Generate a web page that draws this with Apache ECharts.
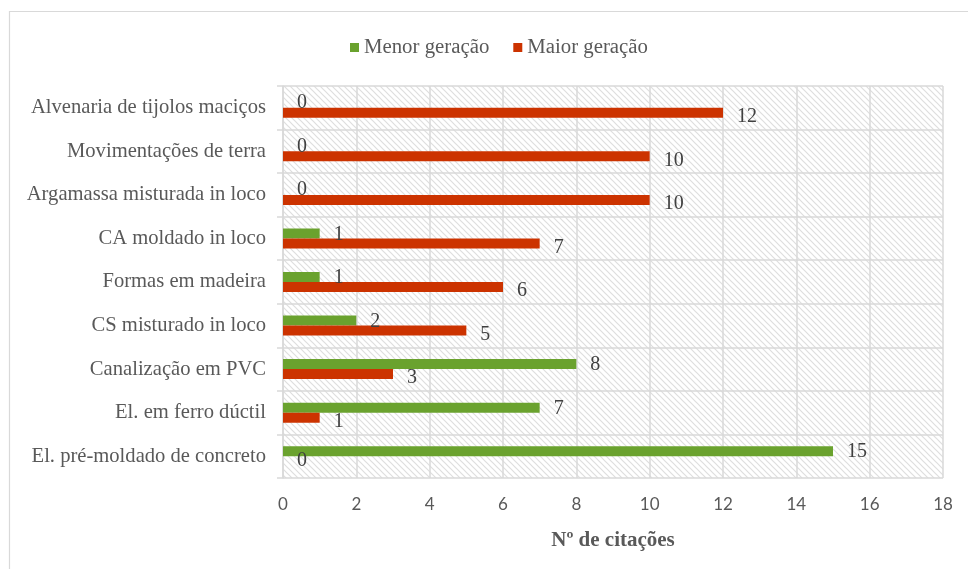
<!DOCTYPE html>
<html><head><meta charset="utf-8">
<script src="https://cdn.jsdelivr.net/npm/echarts@6/dist/echarts.min.js"></script>
<style>html,body{margin:0;padding:0;background:#fff}#c{width:968px;height:569px}</style>
</head><body><div id="c"></div>
<script>
const categories = ['El. pré-moldado de concreto','El. em ferro dúctil','Canalização em PVC','CS misturado in loco','Formas em madeira','CA moldado in loco','Argamassa misturada in loco','Movimentações de terra','Alvenaria de tijolos maciços'];
const menorGeracao = [15, 7, 8, 2, 1, 1, 0, 0, 0];
const maiorGeracao = [0, 1, 3, 5, 6, 7, 10, 10, 12];
const xTicks = [0, 2, 4, 6, 8, 10, 12, 14, 16, 18];

// hatch pattern
const t = 6;
const cv = document.createElement('canvas');
cv.width = t; cv.height = t;
const cx = cv.getContext('2d');
cx.fillStyle = '#ffffff'; cx.fillRect(0,0,t,t);
cx.strokeStyle = '#dedede'; cx.lineWidth = 1.2;
cx.beginPath();
cx.moveTo(-1,-1); cx.lineTo(t+1,t+1);
cx.moveTo(-1,t-1); cx.lineTo(1,t+1);
cx.moveTo(t-1,-1); cx.lineTo(t+1,1);
cx.stroke();

const serif = '"Liberation Serif", "Times New Roman", serif';
function mk(vals, dy){
  return vals.map(v => ({value: v, label: {offset: [0, v === 0 ? 0 : dy]}}));
}
const chart = echarts.init(document.getElementById('c'), null, {renderer:'canvas'});
chart.setOption({
  animation: false,
  backgroundColor: '#fff',
  graphic: [{type:'rect', shape:{x:9.5,y:11.5,width:990,height:590}, style:{fill:'none', stroke:'#d9d9d9', lineWidth:1.2}, silent:true, z:-1}],
  legend: {
    data: ['Menor geração','Maior geração'],
    top: 32, left: 345,
    icon: 'rect', itemWidth: 9, itemHeight: 9, itemGap: 24,
    textStyle: {fontFamily: serif, fontSize: 20.8, color: '#595959'}
  },
  grid: {left: 283, right: 25, top: 86, bottom: 91, show: true, borderWidth: 0,
    backgroundColor: {image: cv, repeat: 'repeat'}},
  xAxis: {
    type: 'value', min: 0, max: 18, interval: 2,
    name: 'Nº de citações', nameLocation: 'middle', nameGap: 52,
    nameTextStyle: {fontFamily: serif, fontSize: 21, fontWeight: 'bold', color: '#595959'},
    axisLine: {show: false}, axisTick: {show: false},
    axisLabel: {fontFamily: 'Lato, "Open Sans", sans-serif', fontSize: 17, color: '#595959', margin: 18,
      formatter: v => xTicks.includes(v) ? String(v) : ''},
    splitLine: {show: true, lineStyle: {color: '#d9d9d9', width: 1.5}}
  },
  yAxis: {
    type: 'category', data: categories,
    axisLine: {show: true, lineStyle: {color: '#d9d9d9', width: 1.5}},
    axisTick: {show: true, length: 6, lineStyle: {color: '#d9d9d9', width: 1.5}},
    axisLabel: {fontFamily: serif, fontSize: 20.6, color: '#595959', margin: 17},
    splitLine: {show: true, lineStyle: {color: '#d9d9d9', width: 1.5}}
  },
  series: [
    {name: 'Menor geração', type: 'bar', data: mk(menorGeracao, 1), barWidth: 10, barGap: '0%',
      itemStyle: {color: '#6aa22e'},
      label: {show: true, position: 'right', distance: 14, fontFamily: serif, fontSize: 20, color: '#404040'}},
    {name: 'Maior geração', type: 'bar', data: mk(maiorGeracao, 4), barWidth: 10, barGap: '0%',
      itemStyle: {color: '#cc3300'},
      label: {show: true, position: 'right', distance: 14, fontFamily: serif, fontSize: 20, color: '#404040'}}
  ]
});
</script></body></html>
